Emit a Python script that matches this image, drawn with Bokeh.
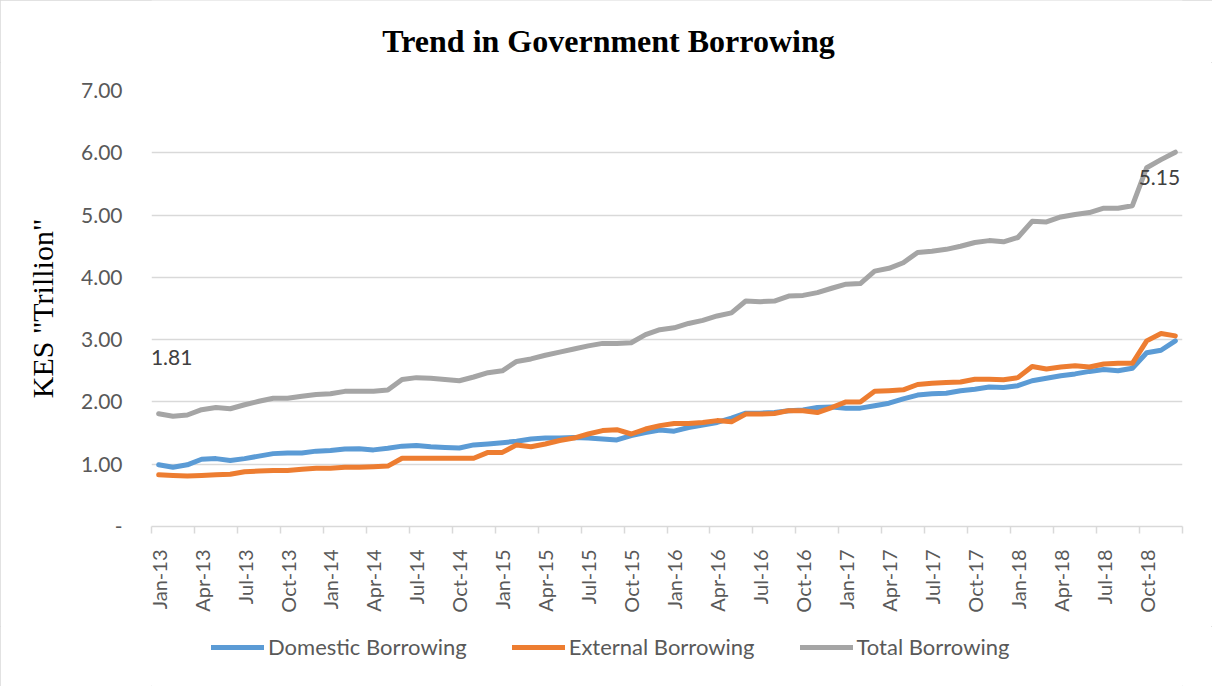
import pandas as pd
from bokeh.plotting import figure
from bokeh.layouts import column
from bokeh.models import (Range1d, FixedTicker, NumeralTickFormatter, Legend, LegendItem,
                          Label, ColumnDataSource)
from bokeh.embed import file_html
from bokeh.resources import INLINE

# ---------------- data (KES trillion, monthly Jan-13 .. Dec-18) ----------------
months = list(pd.date_range("2013-01-01", periods=72, freq="MS").strftime("%b-%y"))

domestic = [0.99, 0.95, 0.99, 1.08, 1.09, 1.06, 1.09, 1.13, 1.17, 1.18, 1.18, 1.21,
            1.22, 1.245, 1.25, 1.23, 1.255, 1.29, 1.30, 1.28, 1.27, 1.26, 1.31, 1.325,
            1.345, 1.37, 1.405, 1.42, 1.42, 1.43, 1.42, 1.405, 1.39, 1.46, 1.51, 1.55,
            1.53, 1.59, 1.63, 1.67, 1.74, 1.82, 1.82, 1.83, 1.86, 1.87, 1.91, 1.92,
            1.90, 1.90, 1.94, 1.98, 2.05, 2.11, 2.13, 2.14, 2.18, 2.205, 2.24, 2.23,
            2.26, 2.34, 2.38, 2.42, 2.45, 2.49, 2.52, 2.50, 2.54, 2.79, 2.83, 2.98]

external = [0.83, 0.82, 0.81, 0.82, 0.83, 0.84, 0.88, 0.89, 0.90, 0.90, 0.92, 0.935,
            0.935, 0.95, 0.95, 0.96, 0.97, 1.095, 1.095, 1.095, 1.095, 1.095, 1.095, 1.19,
            1.19, 1.31, 1.28, 1.325, 1.38, 1.42, 1.485, 1.54, 1.555, 1.485, 1.565, 1.62,
            1.655, 1.655, 1.67, 1.70, 1.68, 1.805, 1.805, 1.815, 1.86, 1.86, 1.83, 1.91,
            2.00, 2.00, 2.17, 2.18, 2.195, 2.28, 2.30, 2.31, 2.32, 2.365, 2.365, 2.355,
            2.39, 2.57, 2.53, 2.56, 2.58, 2.56, 2.61, 2.62, 2.62, 2.98, 3.10, 3.06]

total = [1.81, 1.77, 1.79, 1.875, 1.91, 1.89, 1.955, 2.01, 2.06, 2.06, 2.09, 2.12,
         2.13, 2.17, 2.17, 2.17, 2.19, 2.36, 2.39, 2.38, 2.36, 2.34, 2.40, 2.47,
         2.50, 2.65, 2.69, 2.75, 2.80, 2.85, 2.90, 2.94, 2.94, 2.95, 3.08, 3.16,
         3.19, 3.26, 3.31, 3.38, 3.43, 3.62, 3.61, 3.62, 3.70, 3.71, 3.755, 3.825,
         3.89, 3.90, 4.10, 4.145, 4.235, 4.40, 4.42, 4.45, 4.50, 4.56, 4.59, 4.57,
         4.64, 4.90, 4.89, 4.97, 5.01, 5.04, 5.11, 5.11, 5.15, 5.76, 5.89, 6.01]

title_text = "Trend in Government Borrowing"
y_title = 'KES "Trillion"'
series_names = ["Domestic Borrowing", "External Borrowing", "Total Borrowing"]
series_cols = ["domestic", "external", "total"]
series_colors = ["#5B9BD5", "#ED7D31", "#A5A5A5"]
labelled_points = [0, 68]          # indices of total-borrowing points carrying a data label
y_ticks = [0, 1, 2, 3, 4, 5, 6, 7]

x = list(range(len(months)))
src = ColumnDataSource(dict(x=x, domestic=domestic, external=external, total=total))
xr = Range1d(-0.5, len(months) - 0.5)


def strip(height):
    f = figure(width=1212, height=height, output_backend="svg", toolbar_location=None,
               title_location=None, x_axis_type=None, y_axis_type=None,
               x_range=xr, y_range=Range1d(-3, -2),
               min_border_left=0, min_border_right=0, min_border_top=0, min_border_bottom=0)
    f.outline_line_color = None
    f.background_fill_color = "white"
    f.border_fill_color = "white"
    return f


# ---------------- title strip ----------------
top = strip(62)
top.add_layout(Label(x=457, y=22, x_units="screen", y_units="screen", text=title_text,
                     text_align="center", text_baseline="middle",
                     text_font="Liberation Serif", text_font_style="bold",
                     text_font_size="32px", text_color="black"))

# ---------------- main figure ----------------
p = figure(width=1212, height=564, output_backend="svg", toolbar_location=None,
           title_location=None, x_range=xr, y_range=Range1d(0, 7),
           min_border_left=151, min_border_right=30, min_border_top=28, min_border_bottom=100)
p.background_fill_color = "white"
p.border_fill_color = "white"
p.outline_line_color = None

# x axis
xa = p.xaxis[0]
tick_idx = list(range(0, len(months), 3))
xa.ticker = FixedTicker(ticks=tick_idx, minor_ticks=[i - 0.5 for i in range(0, len(months) + 1, 3)])
xa.major_label_overrides = {i: months[i] for i in tick_idx}
xa.major_label_orientation = 3.14159265 / 2
xa.major_label_text_font = "Lato"
xa.major_label_text_font_size = "20px"
xa.major_label_text_color = "#595959"
xa.major_label_standoff = 16
xa.major_tick_out = 0
xa.major_tick_in = 0
xa.minor_tick_out = 7
xa.minor_tick_in = 0
xa.minor_tick_line_color = "#D9D9D9"
xa.minor_tick_line_width = 1.5
xa.axis_line_color = "#D9D9D9"
xa.axis_line_width = 1.5
p.xgrid.grid_line_color = None

# y axis
ya = p.yaxis[0]
ya.ticker = FixedTicker(ticks=y_ticks)
ya.formatter = NumeralTickFormatter(format="0.00")
ya.major_label_overrides = {0: "-"}
ya.major_label_text_font = "Lato"
ya.major_label_text_font_size = "21px"
ya.major_label_text_color = "#595959"
ya.major_label_standoff = 29
ya.major_tick_out = 0
ya.major_tick_in = 0
ya.minor_tick_out = 0
ya.minor_tick_in = 0
ya.axis_line_color = None
ya.axis_label = y_title
ya.axis_label_text_font = "Liberation Serif"
ya.axis_label_text_font_style = "normal"
ya.axis_label_text_font_size = "30px"
ya.axis_label_text_color = "black"
ya.axis_label_standoff = 19
p.ygrid.ticker = FixedTicker(ticks=y_ticks[1:])
p.ygrid.grid_line_color = "#D9D9D9"
p.ygrid.grid_line_width = 1.5

# lines
for col, color in zip(series_cols, series_colors):
    p.line("x", col, source=src, line_color=color, line_width=5,
           line_cap="round", line_join="round")

# data labels
for i, (dx, dy) in zip(labelled_points, [(13, 56), (27, 28)]):
    p.add_layout(Label(x=i, y=total[i], text=f"{total[i]:.2f}", x_offset=dx, y_offset=dy,
                       text_align="center", text_baseline="middle", text_font="Lato",
                       text_font_size="21px", text_color="#404040"))

# ---------------- legend strip ----------------
leg = strip(60)
# same series drawn out of view: only their legend swatches show
leg_renderers = [leg.line("x", col, source=src, line_color=c, line_width=5, line_cap="round")
                 for col, c in zip(series_cols, series_colors)]
legend = Legend(items=[LegendItem(label=n, renderers=[r]) for n, r in zip(series_names, leg_renderers)],
                orientation="horizontal", location=(60, 26))
legend.glyph_width = 53
legend.glyph_height = 20
legend.label_standoff = 4
legend.spacing = 45
legend.padding = 0
legend.margin = 0
legend.border_line_color = None
legend.background_fill_alpha = 0
legend.label_text_font = "Lato"
legend.label_text_font_size = "22px"
legend.label_text_color = "#595959"
leg.add_layout(legend, "center")

layout = column(top, p, leg, spacing=0)
layout.styles = {"outline": "1px solid #D9D9D9", "outline-offset": "-1px"}
open("out.html", "w").write(file_html(layout, INLINE))
